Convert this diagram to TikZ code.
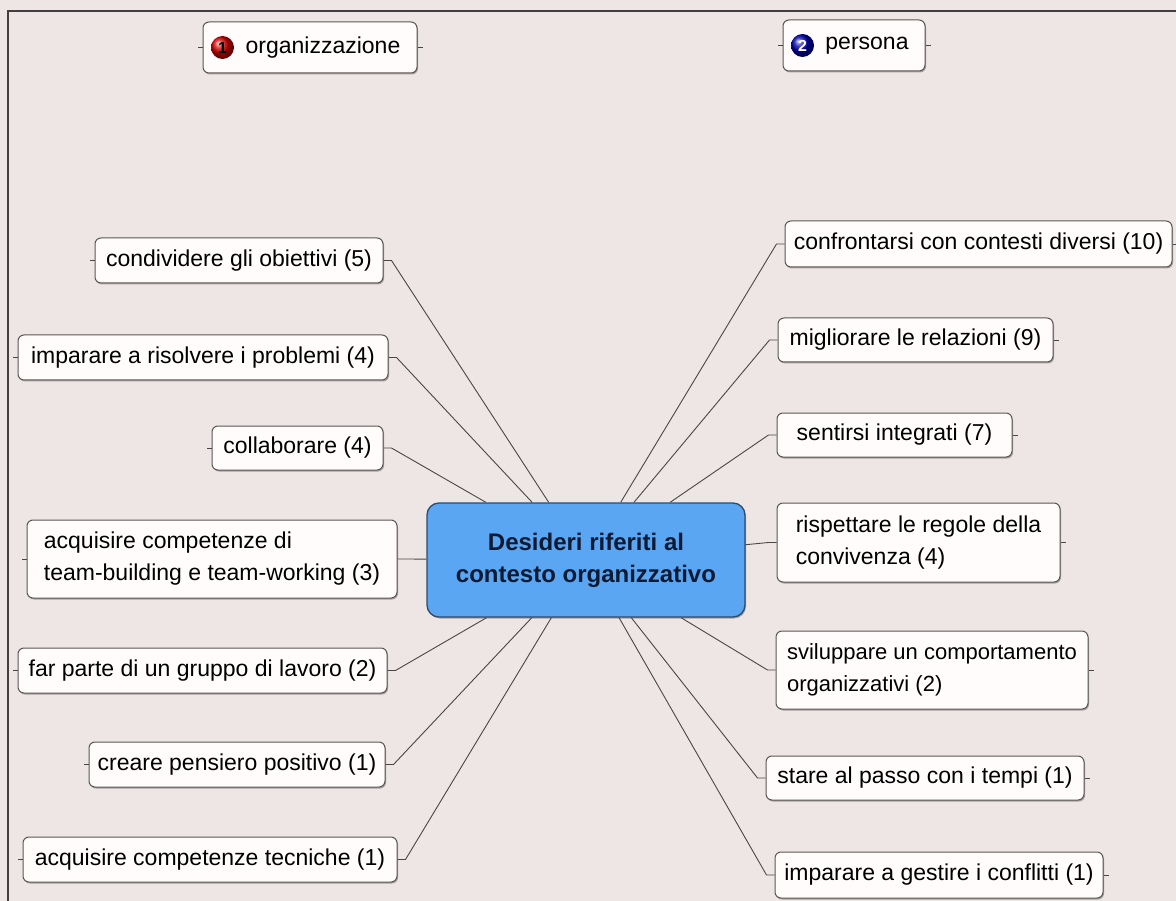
\documentclass[tikz,border=0pt]{standalone}
\usepackage{fontspec}
\setmainfont{Liberation Sans}
\usetikzlibrary{shadows}
\definecolor{bg}{HTML}{EEE6E5}
\definecolor{boxfill}{HTML}{FFFCFB}
\definecolor{boxline}{HTML}{5A5656}
\definecolor{cfill}{HTML}{5AA6F2}
\definecolor{cline}{HTML}{2F4B6B}
\definecolor{ctext}{HTML}{0D1A33}
\definecolor{connc}{HTML}{4A4646}
\tikzset{
  topic/.style={draw=boxline, line width=1pt, fill=boxfill, rounded corners=6pt,
    inner sep=0pt, align=left, font=\fontsize{23}{32}\selectfont,
    drop shadow={shadow xshift=1pt, shadow yshift=-1.5pt, opacity=0.3, fill=black}},
  central/.style={draw=cline, line width=1.3pt, fill=cfill, rounded corners=12pt,
    inner sep=0pt, align=center, text=ctext, font=\fontsize{24}{32}\selectfont\bfseries,
    minimum width=318pt, minimum height=114pt,
    drop shadow={shadow xshift=1pt, shadow yshift=-1.5pt, opacity=0.3, fill=black}},
  conn/.style={draw=connc, line width=0.9pt},
  numball/.style={circle, shading=ball, minimum size=23pt, inner sep=0pt,
    font=\fontsize{16}{16}\selectfont\bfseries}
}
\begin{document}
\begin{tikzpicture}[x=1pt,y=-1pt]
\useasboundingbox (0,0) rectangle (1176,901);
\fill[bg] (0,0) rectangle (1176,901);
\draw[line width=1.5pt, black!75] (8,901) -- (8,11) -- (1176,11);

% central node
\node[central] (C) at (586,560) {Desideri riferiti al\\contesto organizzativo};

% top floating topics
\node[topic, minimum width=214pt, minimum height=51pt] (T1) at (310,47.5) {\hspace*{26pt}organizzazione};
\node[numball, ball color=red!85!black, text=black] (B1) at ([xshift=20pt]T1.west) {1};
\node[topic, minimum width=142pt, minimum height=51pt] (T2) at (854,45.5) {\hspace*{26pt}persona};
\node[numball, ball color=blue!70!black, text=white] (B2) at ([xshift=20pt]T2.west) {2};
\draw[conn] (T1.west) -- ++(-5,0);
\draw[conn] (T1.east) -- ++(5,0);
\draw[conn] (T2.west) -- ++(-5,0);
\draw[conn] (T2.east) -- ++(5,0);

% left topics
\node[topic, minimum width=288pt, minimum height=45pt] (L1) at (239,260.5) {condividere gli obiettivi (5)};
\node[topic, minimum width=370pt, minimum height=45pt] (L2) at (203,357.5) {imparare a risolvere i problemi (4)};
\node[topic, minimum width=171pt, minimum height=44pt] (L3) at (297.5,448) {collaborare (4)};
\node[topic, minimum width=370pt, minimum height=78pt] (L4) at (212,559) {acquisire competenze di\\team-building e team-working (3)};
\node[topic, minimum width=369pt, minimum height=45pt] (L5) at (202.5,670.5) {far parte di un gruppo di lavoro (2)};
\node[topic, minimum width=296pt, minimum height=45pt] (L6) at (237,764.5) {creare pensiero positivo (1)};
\node[topic, minimum width=374pt, minimum height=45pt] (L7) at (210,859.5) {acquisire competenze tecniche (1)};

% right topics
\node[topic, minimum width=387pt, minimum height=46pt] (R1) at (978.5,244) {confrontarsi con contesti diversi (10)};
\node[topic, minimum width=275pt, minimum height=44pt] (R2) at (915.5,340) {migliorare le relazioni (9)};
\node[topic, minimum width=235pt, minimum height=44pt] (R3) at (894.5,435) {sentirsi integrati (7)};
\node[topic, minimum width=283pt, minimum height=79pt] (R4) at (918.5,542.5) {rispettare le regole della\\convivenza (4)};
\node[topic, minimum width=312pt, minimum height=78pt, font=\fontsize{22}{32}\selectfont] (R5) at (932,670) {sviluppare un comportamento\\organizzativi (2)};
\node[topic, minimum width=318pt, minimum height=44pt] (R6) at (925,778) {stare al passo con i tempi (1)};
\node[topic, minimum width=328pt, minimum height=46pt] (R7) at (939,875) {imparare a gestire i conflitti (1)};

% connectors
\foreach \n in {L1,L2,L3,L4,L5,L6,L7}{
  \draw[conn] (\n.east) -- ++(8,0) -- (C);
  \draw[conn] (\n.west) -- ++(-5,0);
}
\foreach \n in {R1,R2,R3,R4,R5,R6,R7}{
  \draw[conn] (\n.west) -- ++(-8,0) -- (C);
  \draw[conn] (\n.east) -- ++(5,0);
}
\end{tikzpicture}
\end{document}
